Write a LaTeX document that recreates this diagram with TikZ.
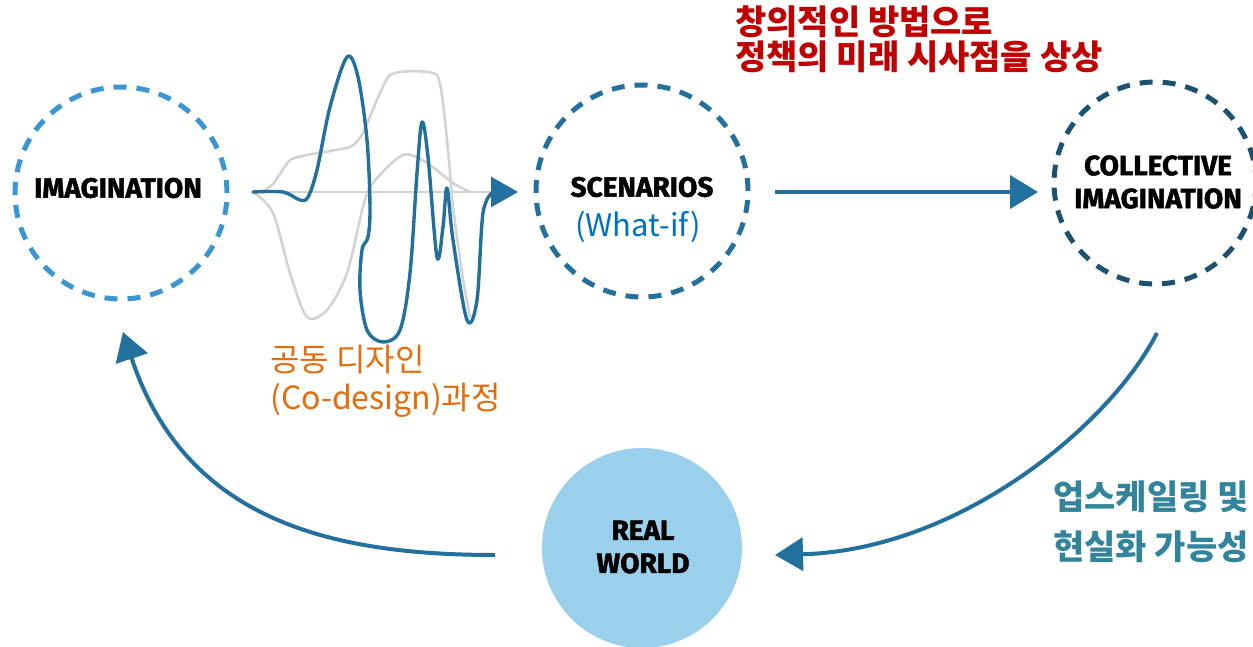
\documentclass[tikz,border=0pt]{standalone}
\usepackage{fontspec}
\usetikzlibrary{arrows.meta}
\newfontfamily\kr{Noto Sans CJK KR}
\newfontfamily\din{Fira Sans}[BoldFeatures={FakeBold=1.6}]
\definecolor{imgblue}{HTML}{3B95D3}
\definecolor{scenblue}{HTML}{24709C}
\definecolor{collblue}{HTML}{1C5270}
\definecolor{arrblue}{HTML}{22709E}
\definecolor{realfill}{HTML}{9BD0EC}
\definecolor{wavegray}{HTML}{D3D3D3}
\definecolor{krred}{HTML}{C00000}
\definecolor{krteal}{HTML}{31849B}
\definecolor{krorange}{HTML}{E46C0A}
\definecolor{whatif}{HTML}{0070C0}
\tikzset{
  ring/.style={circle, draw, line width=5pt, dash pattern=on 13pt off 10pt, minimum size=#1, inner sep=0pt},
  lbl/.style={font=\din\bfseries\fontsize{28}{33}\selectfont, align=center, text=black, inner sep=0pt},
  flow/.style={draw=arrblue, line width=4pt, -{Triangle[length=28pt,width=33pt]}, arrblue},
  graycurve/.style={draw=wavegray, line width=2.6pt},
  bluecurve/.style={draw=scenblue, line width=3.4pt, line join=round, line cap=round},
  krtxt/.style={align=left, inner sep=0pt, anchor=north west}
}
\begin{document}
\begin{tikzpicture}[x=1pt,y=-1pt]
\useasboundingbox (0,0) rectangle (1253,647);
% circles
\node[ring=212pt, draw=imgblue] (imag) at (121,193) {};
\node[ring=212pt, draw=scenblue] (scen) at (642,191) {};
\node[ring=202pt, draw=collblue] (coll) at (1155,183) {};
\node[circle, fill=realfill, minimum size=200pt, inner sep=0pt] (real) at (642,548) {};
% labels
\node[lbl] (imagt) at (118,188) {IMAGINATION};
\node[lbl] (scent) at (642,187) {SCENARIOS};
\node[font=\kr\fontsize{31}{30}\selectfont, text=whatif, inner sep=0pt] (whatt) at (638,227) {(What-if)};
\node[lbl] (collt) at (1158,182) {COLLECTIVE\\IMAGINATION};
\node[lbl] (realt) at (643,547) {REAL\\WORLD};
% Korean texts
\node[krtxt, text=krred, font=\kr\bfseries\fontsize{34}{35}\selectfont] (red) at (735,6) {창의적인 방법으로\\정책의 미래 시사점을 상상};
\node[krtxt, text=krteal, font=\kr\bfseries\fontsize{34}{50}\selectfont] (teal) at (1053,481) {업스케일링 및\\현실화 가능성};
\node[krtxt, text=krorange, font=\kr\fontsize{32}{38}\selectfont] (orange) at (270,345) {공동 디자인\\(Co-design)과정};
% wave
\coordinate (w0) at (253,192);
\coordinate (w1) at (518,192);
\draw[graycurve] plot[smooth, tension=0.5] coordinates {(253,192) (273,213) (290,273) (307,317) (327,310) (347,273) (363,207) (373,183) (403,155) (427,163) (453,183) (470,192)};
\draw[graycurve] plot[smooth, tension=0.3] coordinates {(262,192) (273,184) (290,160) (307,155) (350,147) (363,133) (390,75) (437,75) (447,140) (453,207) (462,273) (470,317)};
\draw[graycurve, -{Triangle[length=27pt,width=30pt,color=arrblue,fill=arrblue]}] (w0) -- (w1);
\draw[bluecurve] plot[smooth, tension=0.55] coordinates {(253,192) (283,192) (300,200) (308,197) (317,170) (330,107) (347,57) (358,77) (367,140) (370,207) (368,237) (362,250) (360,290) (367,330) (383,342) (400,330) (410,273) (417,173) (422,122) (428,157) (437,257) (443,227) (447,188) (453,240) (467,320) (477,300) (483,213) (493,192)};
% connectors
\coordinate (a1s) at (775,192);
\coordinate (a1e) at (1038,192);
\draw[flow] (a1s) -- (a1e);
\coordinate (a2s) at (1157,333);
\coordinate (a2e) at (775,555);
\draw[flow] (a2s) .. controls (1110,425) and (960,550) .. (a2e);
\coordinate (a3s) at (495,555);
\coordinate (a3e) at (123,332);
\draw[flow] (a3s) .. controls (330,555) and (185,520) .. (a3e);
\end{tikzpicture}
\end{document}
